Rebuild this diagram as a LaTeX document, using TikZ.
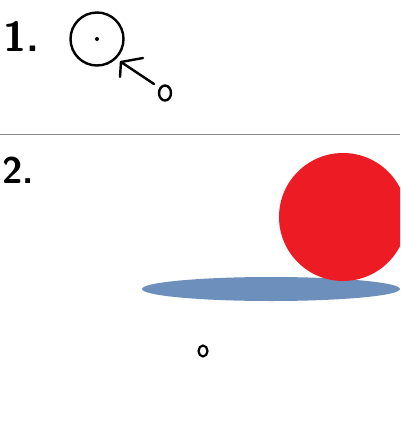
\documentclass[tikz,border=0pt]{standalone}
\usetikzlibrary{arrows.meta,shapes.geometric}
\definecolor{ballred}{HTML}{ED1C24}
\definecolor{shadowblue}{HTML}{6D8FBC}
\definecolor{rulegray}{HTML}{8C8C8C}
\begin{document}
\begin{tikzpicture}[x=1pt,y=-1pt,
  ink/.style={line width=2.4pt,draw=black},
  numlabel/.style={anchor=base west,inner sep=0pt,font=\sffamily\bfseries\fontsize{42}{42}\selectfont}]
\useasboundingbox (0,0) rectangle (400,422);
\begin{scope}
\clip (0,0) rectangle (400,422);
% part 1
\node[numlabel] (n1) at (3,52) {1.};
\node[ink,circle,minimum size=53pt,inner sep=0pt] (c1) at (97,39) {};
\fill (c1.center) circle (2pt);
\node[ink,ellipse,minimum width=12pt,minimum height=15pt,inner sep=0pt] (o1) at (165,93) {};
\coordinate (tip) at (121,62);
\coordinate (tail) at (154,84);
\draw[ink,line cap=round] (tail) -- (tip);
\draw[ink,line cap=round,line join=round] (143,58) -- (tip) -- (120,77);
% separator
\draw[rulegray,line width=1pt] (0,135) coordinate (s0) -- (400,135) coordinate (s1);
% part 2
\node[numlabel,font=\sffamily\bfseries\fontsize{37}{37}\selectfont] (n2) at (2,183) {2.};
\fill[shadowblue] (271,289) ellipse (129 and 12);
\node[circle,fill=ballred,minimum size=128pt,inner sep=0pt] (ball) at (343,217) {};
\node[ink,ellipse,minimum width=9pt,minimum height=11pt,inner sep=0pt,line width=2.2pt] (o2) at (203,351) {};
\end{scope}
\end{tikzpicture}
\end{document}
